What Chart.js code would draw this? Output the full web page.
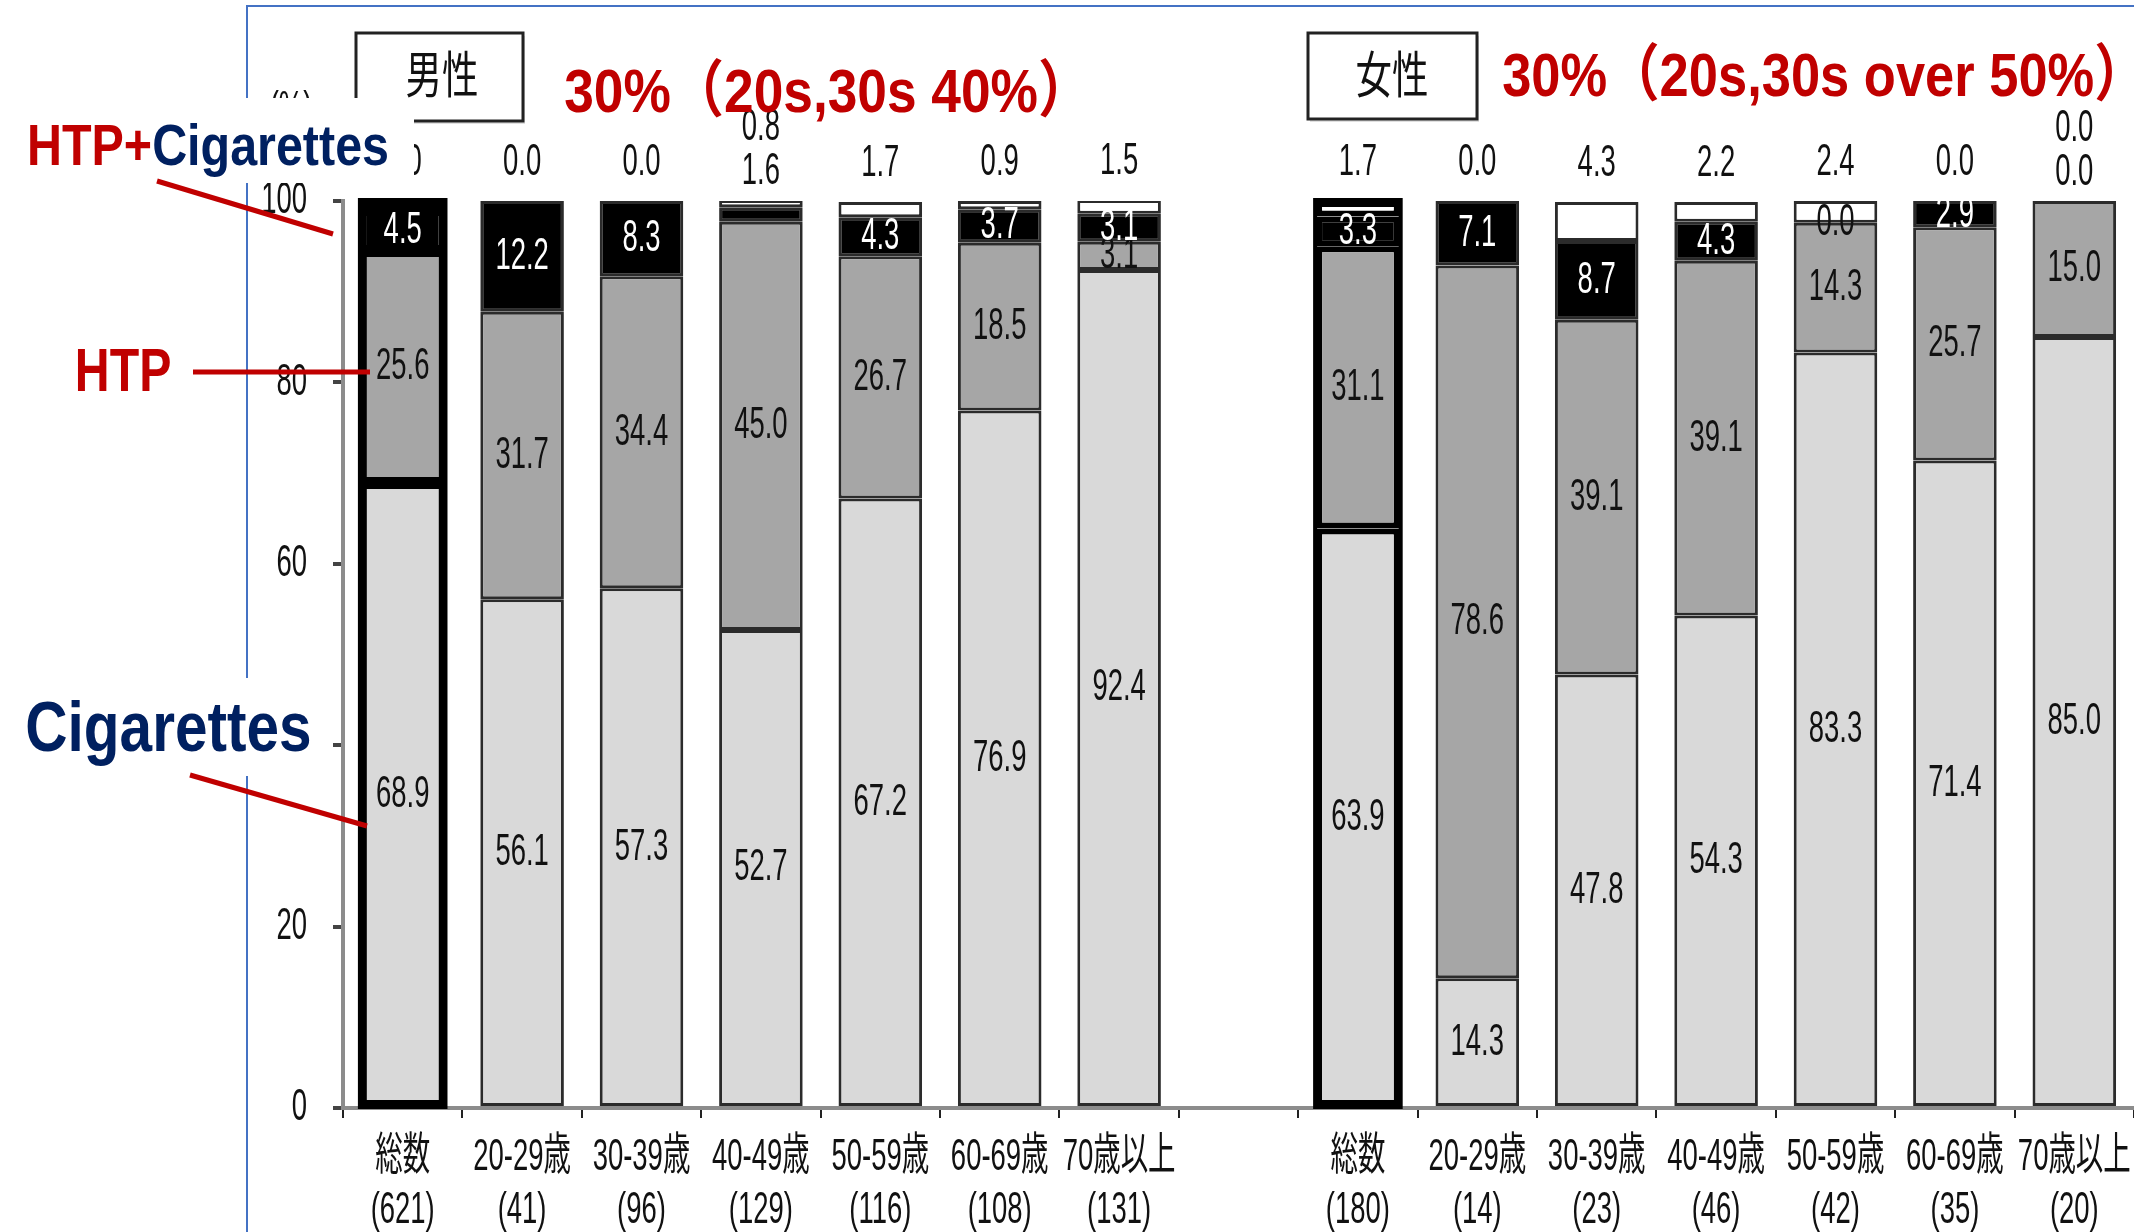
<!DOCTYPE html>
<html>
<head>
<meta charset="utf-8">
<script src="https://cdn.jsdelivr.net/npm/chart.js@4.4.1/dist/chart.umd.min.js"></script>
<style>
  html, body { margin: 0; padding: 0; background: #fff; overflow: hidden; }
  #wrap { position: relative; width: 2134px; height: 1232px; }
</style>
</head>
<body>
<div id="wrap"><canvas id="smokeChart"></canvas></div>
<script>
// categories (men 7, gap, women 7)
const categories = ['総数', '20-29歳', '30-39歳', '40-49歳', '50-59歳', '60-69歳', '70歳以上', '',
                    '総数', '20-29歳', '30-39歳', '40-49歳', '50-59歳', '60-69歳', '70歳以上'];
const sampleSizes = ['(621)', '(41)', '(96)', '(129)', '(116)', '(108)', '(131)', '',
                     '(180)', '(14)', '(23)', '(46)', '(42)', '(35)', '(20)'];

// percentages, bottom to top
const cigarettes = [68.9, 56.1, 57.3, 52.7, 67.2, 76.9, 92.4, null, 63.9, 14.3, 47.8, 54.3, 83.3, 71.4, 85.0];
const htp        = [25.6, 31.7, 34.4, 45.0, 26.7, 18.5, 3.1, null, 31.1, 78.6, 39.1, 39.1, 14.3, 25.7, 15.0];
const htpAndCig  = [4.5, 12.2, 8.3, 1.6, 4.3, 3.7, 3.1, null, 3.3, 7.1, 8.7, 4.3, 0.0, 2.9, 0.0];
const other      = [1.0, 0.0, 0.0, 0.8, 1.7, 0.9, 1.5, null, 1.7, 0.0, 4.3, 2.2, 2.4, 0.0, 0.0];

const yTicks = [0, 20, 40, 60, 80, 100];

const totalBars = [0, 8];      // 総数 bars get the heavy outline
const bothLabelOutside = [3, 14];

const FONT = '"Liberation Sans", "Noto Sans CJK JP", sans-serif';
const RED = '#c00000';
const NAVY = '#002060';

function drawText(ctx, str, x, y, opt) {
    opt = opt || {};
    const size = opt.size || 45;
    ctx.save();
    ctx.font = (opt.weight || 'normal') + ' ' + size + 'px ' + FONT;
    ctx.textAlign = opt.align || 'center';
    ctx.textBaseline = opt.baseline || 'middle';
    const m = ctx.measureText(str);
    // fit the visible ink to the wanted width
    const natural = opt.width ? (m.actualBoundingBoxLeft + m.actualBoundingBoxRight) : m.width;
    const sx = opt.width ? opt.width / natural : (opt.sx || 0.61);
    ctx.translate(x, y);
    ctx.scale(sx, 1);
    ctx.fillStyle = opt.color || '#111';
    ctx.fillText(str, opt.width && ctx.textAlign === 'left' ? m.actualBoundingBoxLeft : 0, 0);
    ctx.restore();
    return m.width * sx;
}

function line(ctx, x1, y1, x2, y2, color, w) {
    ctx.save();
    ctx.strokeStyle = color;
    ctx.lineWidth = w;
    ctx.beginPath();
    ctx.moveTo(x1, y1);
    ctx.lineTo(x2, y2);
    ctx.stroke();
    ctx.restore();
}

function box(ctx, x1, y1, x2, y2) {
    ctx.save();
    ctx.fillStyle = '#e0e0e0';
    ctx.fillRect(x1 + 2, y1 + 3, x2 - x1, y2 - y1);
    ctx.fillStyle = '#fff';
    ctx.fillRect(x1, y1, x2 - x1, y2 - y1);
    ctx.strokeStyle = '#222';
    ctx.lineWidth = 3;
    ctx.strokeRect(x1, y1, x2 - x1, y2 - y1);
    ctx.restore();
}

const overlay = {
    id: 'overlay',
    afterDraw(chart) {
        const ctx = chart.ctx;
        const xs = chart.scales.x;
        const ys = chart.scales.y;
        const metas = [0, 1, 2, 3].map(i => chart.getDatasetMeta(i));

        // blue slide frame
        ctx.save();
        ctx.strokeStyle = '#4472c4';
        ctx.lineWidth = 2;
        ctx.beginPath();
        ctx.moveTo(247, 1232);
        ctx.lineTo(247, 6);
        ctx.lineTo(2134, 6);
        ctx.stroke();
        ctx.restore();

        // heavy outline around 総数 bars
        totalBars.forEach(j => {
            const el = metas[0].data[j];
            const top = metas[3].data[j].y;
            const bottom = el.base;
            ctx.save();
            ctx.strokeStyle = '#000';
            ctx.lineWidth = 4;
            ctx.strokeRect(el.x - el.width / 2 - 1, top - 1, el.width + 2, bottom - top + 2);
            ctx.restore();
        });

        // y tick labels
        ys.ticks.forEach(t => {
            drawText(ctx, String(t.value), 307, ys.getPixelForValue(t.value), {align: 'right'});
        });

        // x category labels
        categories.forEach((c, j) => {
            if (!c) return;
            const cx = xs.getPixelForValue(j);
            drawText(ctx, c, cx, xs.top + 50);
            drawText(ctx, sampleSizes[j], cx, xs.top + 103);
        });

        // value labels
        const series = [cigarettes, htp, htpAndCig, other];
        categories.forEach((c, j) => {
            if (cigarettes[j] === null) return;
            const cx = xs.getPixelForValue(j);
            for (let i = 0; i < 3; i++) {
                if (i === 2 && bothLabelOutside.includes(j)) continue;
                const el = metas[i].data[j];
                const v = series[i][j];
                const color = (i === 2 && v > 0) ? '#fff' : '#111';
                drawText(ctx, v.toFixed(1), cx, (el.y + el.base) / 2, {color: color});
            }
            const top = metas[3].data[j].y;
            if (bothLabelOutside.includes(j)) {
                drawText(ctx, htpAndCig[j].toFixed(1), cx, top - 28);
                drawText(ctx, other[j].toFixed(1), cx, top - 72);
            } else {
                drawText(ctx, other[j].toFixed(1), cx, top - 38);
            }
        });

        // (%) unit label, mostly hidden under the annotation
        drawText(ctx, '(%)', 291, 110);

        // group boxes and red notes
        box(ctx, 356, 33, 523, 121);
        drawText(ctx, '男性', 442, 79, {size: 50, width: 70});
        box(ctx, 1308, 33, 1477, 119);
        drawText(ctx, '女性', 1392, 79, {size: 50, width: 70});

        drawText(ctx, '30%（20s,30s 40%）', 565, 112,
            {size: 62, weight: 'bold', color: RED, align: 'left', baseline: 'alphabetic', width: 491});
        drawText(ctx, '30%（20s,30s over 50%）', 1503, 96,
            {size: 62, weight: 'bold', color: RED, align: 'left', baseline: 'alphabetic', width: 609});

        // annotation backgrounds
        ctx.save();
        ctx.fillStyle = '#fff';
        ctx.fillRect(0, 98, 414, 85);
        ctx.fillRect(0, 678, 328, 98);
        ctx.restore();

        // annotations
        ctx.save();
        ctx.font = 'bold 58px ' + FONT;
        const wPlus = ctx.measureText('HTP+').width;
        const wAll = ctx.measureText('HTP+Cigarettes').width;
        ctx.restore();
        const k = 362 / wAll;
        drawText(ctx, 'HTP+', 27, 165, {size: 58, weight: 'bold', color: RED, align: 'left', baseline: 'alphabetic', sx: k});
        drawText(ctx, 'Cigarettes', 27 + wPlus * k, 165, {size: 58, weight: 'bold', color: NAVY, align: 'left', baseline: 'alphabetic', sx: k});
        drawText(ctx, 'HTP', 78, 391, {size: 61, weight: 'bold', color: RED, align: 'left', baseline: 'alphabetic', width: 92});
        drawText(ctx, 'Cigarettes', 27, 751, {size: 70, weight: 'bold', color: NAVY, align: 'left', baseline: 'alphabetic', width: 283});

        line(ctx, 157, 181, 333, 234, RED, 5);
        line(ctx, 193, 372, 370, 372, RED, 5);
        line(ctx, 190, 775, 367, 826, RED, 5);
    }
};

function barBorder(c) {
    return totalBars.includes(c.dataIndex) ? 6 : 3;
}
function barBorderColor(c) {
    return totalBars.includes(c.dataIndex) ? '#000' : '#2b2b2b';
}

const ctx = document.getElementById('smokeChart').getContext('2d');
const smokeChart = new Chart(ctx, {
    type: 'bar',
    data: {
        labels: categories,
        datasets: [
            {label: 'Cigarettes', data: cigarettes, backgroundColor: '#d9d9d9'},
            {label: 'HTP', data: htp, backgroundColor: '#a6a6a6'},
            {label: 'HTP+Cigarettes', data: htpAndCig, backgroundColor: '#000000'},
            {label: 'Other', data: other, backgroundColor: '#ffffff'}
        ].map(d => Object.assign(d, {
            borderWidth: barBorder,
            borderColor: barBorderColor,
            borderSkipped: false,
            barPercentage: 0.7,
            categoryPercentage: 1.0
        }))
    },
    options: {
        responsive: true,
        maintainAspectRatio: false,
        animation: false,
        layout: {padding: {top: 201, left: 0, right: 0, bottom: 0}},
        plugins: {
            legend: {display: false},
            tooltip: {enabled: false}
        },
        scales: {
            x: {
                stacked: true,
                grid: {drawOnChartArea: false, drawTicks: true, tickLength: 10, color: '#222', lineWidth: 2},
                border: {color: '#8c8c8c', width: 4},
                ticks: {color: 'rgba(0,0,0,0)', autoSkip: false, maxRotation: 0, font: {size: 10}},
                afterFit: s => { s.height = 124; }
            },
            y: {
                stacked: true,
                min: 0,
                max: 100,
                afterBuildTicks: s => { s.ticks = yTicks.map(v => ({value: v})); },
                grid: {drawOnChartArea: false, drawTicks: true, tickLength: 10, color: '#444', lineWidth: 4},
                border: {color: '#8c8c8c', width: 4},
                ticks: {color: 'rgba(0,0,0,0)', font: {size: 10}},
                afterFit: s => { s.width = 343; }
            }
        }
    },
    plugins: [overlay]
});
</script>
</body>
</html>
